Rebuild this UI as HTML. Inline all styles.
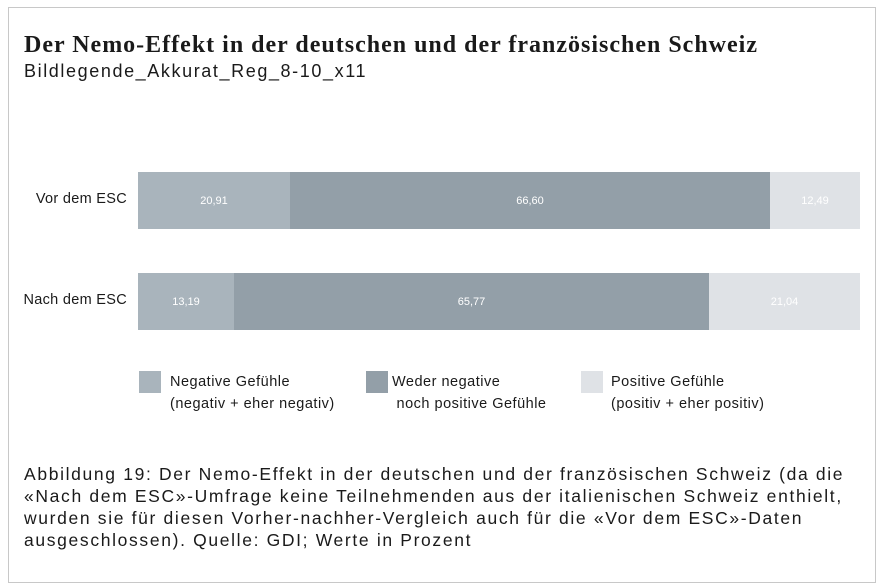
<!DOCTYPE html>
<html><head><meta charset="utf-8"><style>
body{margin:0;width:883px;height:588px;background:#fff;position:relative;font-family:"Liberation Sans",sans-serif;color:#1a1a1a;overflow:hidden}
.frame{position:absolute;left:8px;top:7px;width:866px;height:574px;border:1px solid #c8c8c8}
.a{position:absolute;white-space:nowrap}
.seg{position:absolute;color:#fff;font-size:11px;display:flex;align-items:center;justify-content:center}
.sq{position:absolute;width:22px;height:22px}
.lg{position:absolute;font-size:14.5px;line-height:22px;letter-spacing:0.5px}
.lab{position:absolute;right:756px;font-size:14.5px;white-space:nowrap;letter-spacing:0.3px}
</style></head><body>
<div class="frame"></div>
<div class="a" style="left:24px;top:32px;font-family:'Liberation Serif',serif;font-size:24px;font-weight:bold;letter-spacing:1px">Der Nemo-Effekt in der deutschen und der französischen Schweiz</div>
<div class="a" style="left:24px;top:61px;font-size:18px;letter-spacing:1.6px">Bildlegende_Akkurat_Reg_8-10_x11</div>
<div class="lab" style="top:191px">Vor dem ESC</div>
<div class="lab" style="top:292px">Nach dem ESC</div>
<div class="seg" style="left:138px;top:172px;width:152px;height:57px;background:#a9b4bc">20,91</div>
<div class="seg" style="left:290px;top:172px;width:480px;height:57px;background:#939fa8">66,60</div>
<div class="seg" style="left:770px;top:172px;width:90px;height:57px;background:#dfe2e6">12,49</div>
<div class="seg" style="left:138px;top:273px;width:96px;height:57px;background:#a9b4bc">13,19</div>
<div class="seg" style="left:234px;top:273px;width:475px;height:57px;background:#939fa8">65,77</div>
<div class="seg" style="left:709px;top:273px;width:151px;height:57px;background:#dfe2e6">21,04</div>
<div class="sq" style="left:139px;top:371px;background:#a9b4bc"></div>
<div class="lg" style="left:170px;top:371px">Negative Gefühle<br>(negativ + eher negativ)</div>
<div class="sq" style="left:366px;top:371px;background:#939fa8"></div>
<div class="lg" style="left:392px;top:371px">Weder negative<br>&nbsp;noch positive Gefühle</div>
<div class="sq" style="left:581px;top:371px;background:#dfe2e6"></div>
<div class="lg" style="left:611px;top:371px">Positive Gefühle<br>(positiv + eher positiv)</div>
<div class="a" style="left:24px;top:463px;font-size:17.5px;line-height:22px;letter-spacing:1.65px">Abbildung 19: Der Nemo-Effekt in der deutschen und der französischen Schweiz (da die<br>«Nach dem ESC»-Umfrage keine Teilnehmenden aus der italienischen Schweiz enthielt,<br>wurden sie für diesen Vorher-nachher-Vergleich auch für die «Vor dem ESC»-Daten<br>ausgeschlossen). Quelle: GDI; Werte in Prozent</div>
</body></html>
